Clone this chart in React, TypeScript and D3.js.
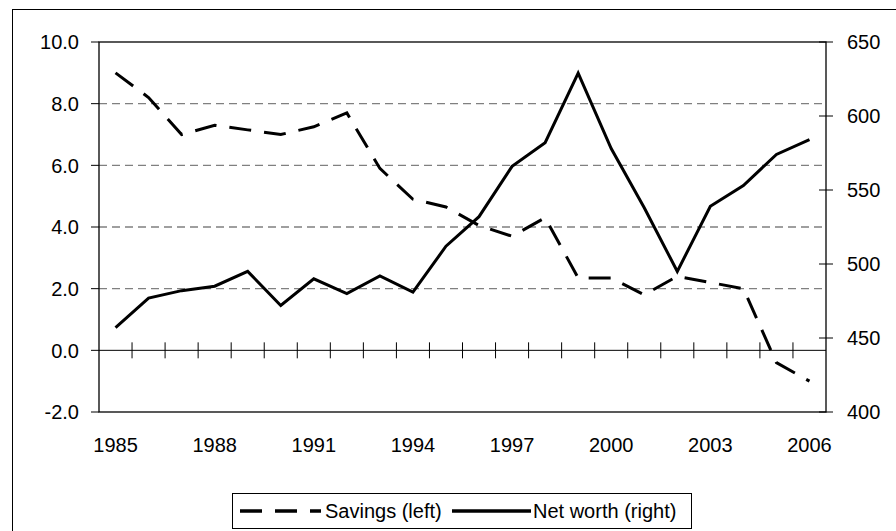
import React from "react";
import * as d3 from "d3";

const years = [1985,1986,1987,1988,1989,1990,1991,1992,1993,1994,1995,1996,1997,1998,1999,2000,2001,2002,2003,2004,2005,2006];
const savings = [9.0,8.2,7.0,7.3,7.15,7.0,7.25,7.7,5.9,4.9,4.65,4.05,3.7,4.3,2.35,2.35,1.8,2.4,2.2,2.0,-0.4,-1.0];
const netWorth = [457,477,482,485,495,472,490,480,492,481,512,532,566,582,629,578,538,495,539,553,574,584];
const leftTicks = [-2,0,2,4,6,8,10];
const rightTicks = [400,450,500,550,600,650];
const labelYears = [1985,1988,1991,1994,1997,2000,2003,2006];
const gridValues = [2,4,6,8];
const legendLabels = ["Savings (left)", "Net worth (right)"];

const W = 896, H = 531;
const L = 99, R = 826, T = 42, B = 412;
const FONT = "'Liberation Sans', Arial, sans-serif";

export default function App() {
  const x = d3.scaleBand<number>().domain(years).range([L, R]).padding(0);
  const cx = (yr: number) => (x(yr) as number) + x.bandwidth() / 2;
  const yL = d3.scaleLinear().domain([-2, 10]).range([B, T]);
  const yR = d3.scaleLinear().domain([400, 650]).range([B, T]);

  const sLine = d3.line<number>().x((_, i) => cx(years[i])).y((d) => yL(d));
  const nLine = d3.line<number>().x((_, i) => cx(years[i])).y((d) => yR(d));

  const y0 = yL(0);
  const bounds = years.slice(1).map((yr) => x(yr) as number);

  return (
    <svg width={W} height={H} style={{ position: "absolute", left: 0, top: 0, background: "#fff" }}>
      <rect x={12.5} y={9.5} width={W} height={H} fill="#fff" stroke="#000" strokeWidth={1} />
      {/* gridlines */}
      {gridValues.map((v) => (
        <line key={v} x1={L} x2={R} y1={yL(v)} y2={yL(v)} stroke="#808080" strokeWidth={1.3} strokeDasharray="8,5" />
      ))}
      {/* plot border */}
      <rect x={L} y={T} width={R - L} height={B - T} fill="none" stroke="#000" strokeWidth={1.3} />
      {/* left axis ticks + labels */}
      {leftTicks.map((v) => (
        <g key={v}>
          <line x1={91} x2={L} y1={yL(v)} y2={yL(v)} stroke="#000" strokeWidth={1} />
          <text x={79} y={yL(v)} dy="0.36em" textAnchor="end" fontFamily={FONT} fontSize={20} fill="#000">
            {v.toFixed(1)}
          </text>
        </g>
      ))}
      {/* right axis ticks + labels */}
      {rightTicks.map((v) => (
        <g key={v}>
          <line x1={819} x2={833} y1={yR(v)} y2={yR(v)} stroke="#000" strokeWidth={1} />
          <text x={847} y={yR(v)} dy="0.36em" textAnchor="start" fontFamily={FONT} fontSize={20} fill="#000">
            {v}
          </text>
        </g>
      ))}
      {/* zero axis line with ticks */}
      <line x1={L} x2={R} y1={y0} y2={y0} stroke="#000" strokeWidth={1} />
      {bounds.map((bx, i) => (
        <line key={i} x1={bx} x2={bx} y1={y0 - 8} y2={y0 + 8} stroke="#000" strokeWidth={1} />
      ))}
      {/* x labels */}
      {labelYears.map((yr) => (
        <text key={yr} x={cx(yr)} y={445} dy="0.36em" textAnchor="middle" fontFamily={FONT} fontSize={20} fill="#000">
          {yr}
        </text>
      ))}
      {/* series */}
      <path d={sLine(savings) || ""} fill="none" stroke="#000" strokeWidth={3} strokeDasharray="22,13" />
      <path d={nLine(netWorth) || ""} fill="none" stroke="#000" strokeWidth={3} strokeLinejoin="miter" />
      {/* legend */}
      <rect x={232.5} y={493.5} width={459} height={35} fill="#fff" stroke="#000" strokeWidth={1} />
      <line x1={240} x2={321} y1={511} y2={511} stroke="#000" strokeWidth={3.5} strokeDasharray="22,13" />
      <text x={325} y={511} dy="0.36em" fontFamily={FONT} fontSize={20} fill="#000">{legendLabels[0]}</text>
      <line x1={452} x2={531} y1={511} y2={511} stroke="#000" strokeWidth={3.5} />
      <text x={533} y={511} dy="0.36em" fontFamily={FONT} fontSize={20} fill="#000">{legendLabels[1]}</text>
    </svg>
  );
}
